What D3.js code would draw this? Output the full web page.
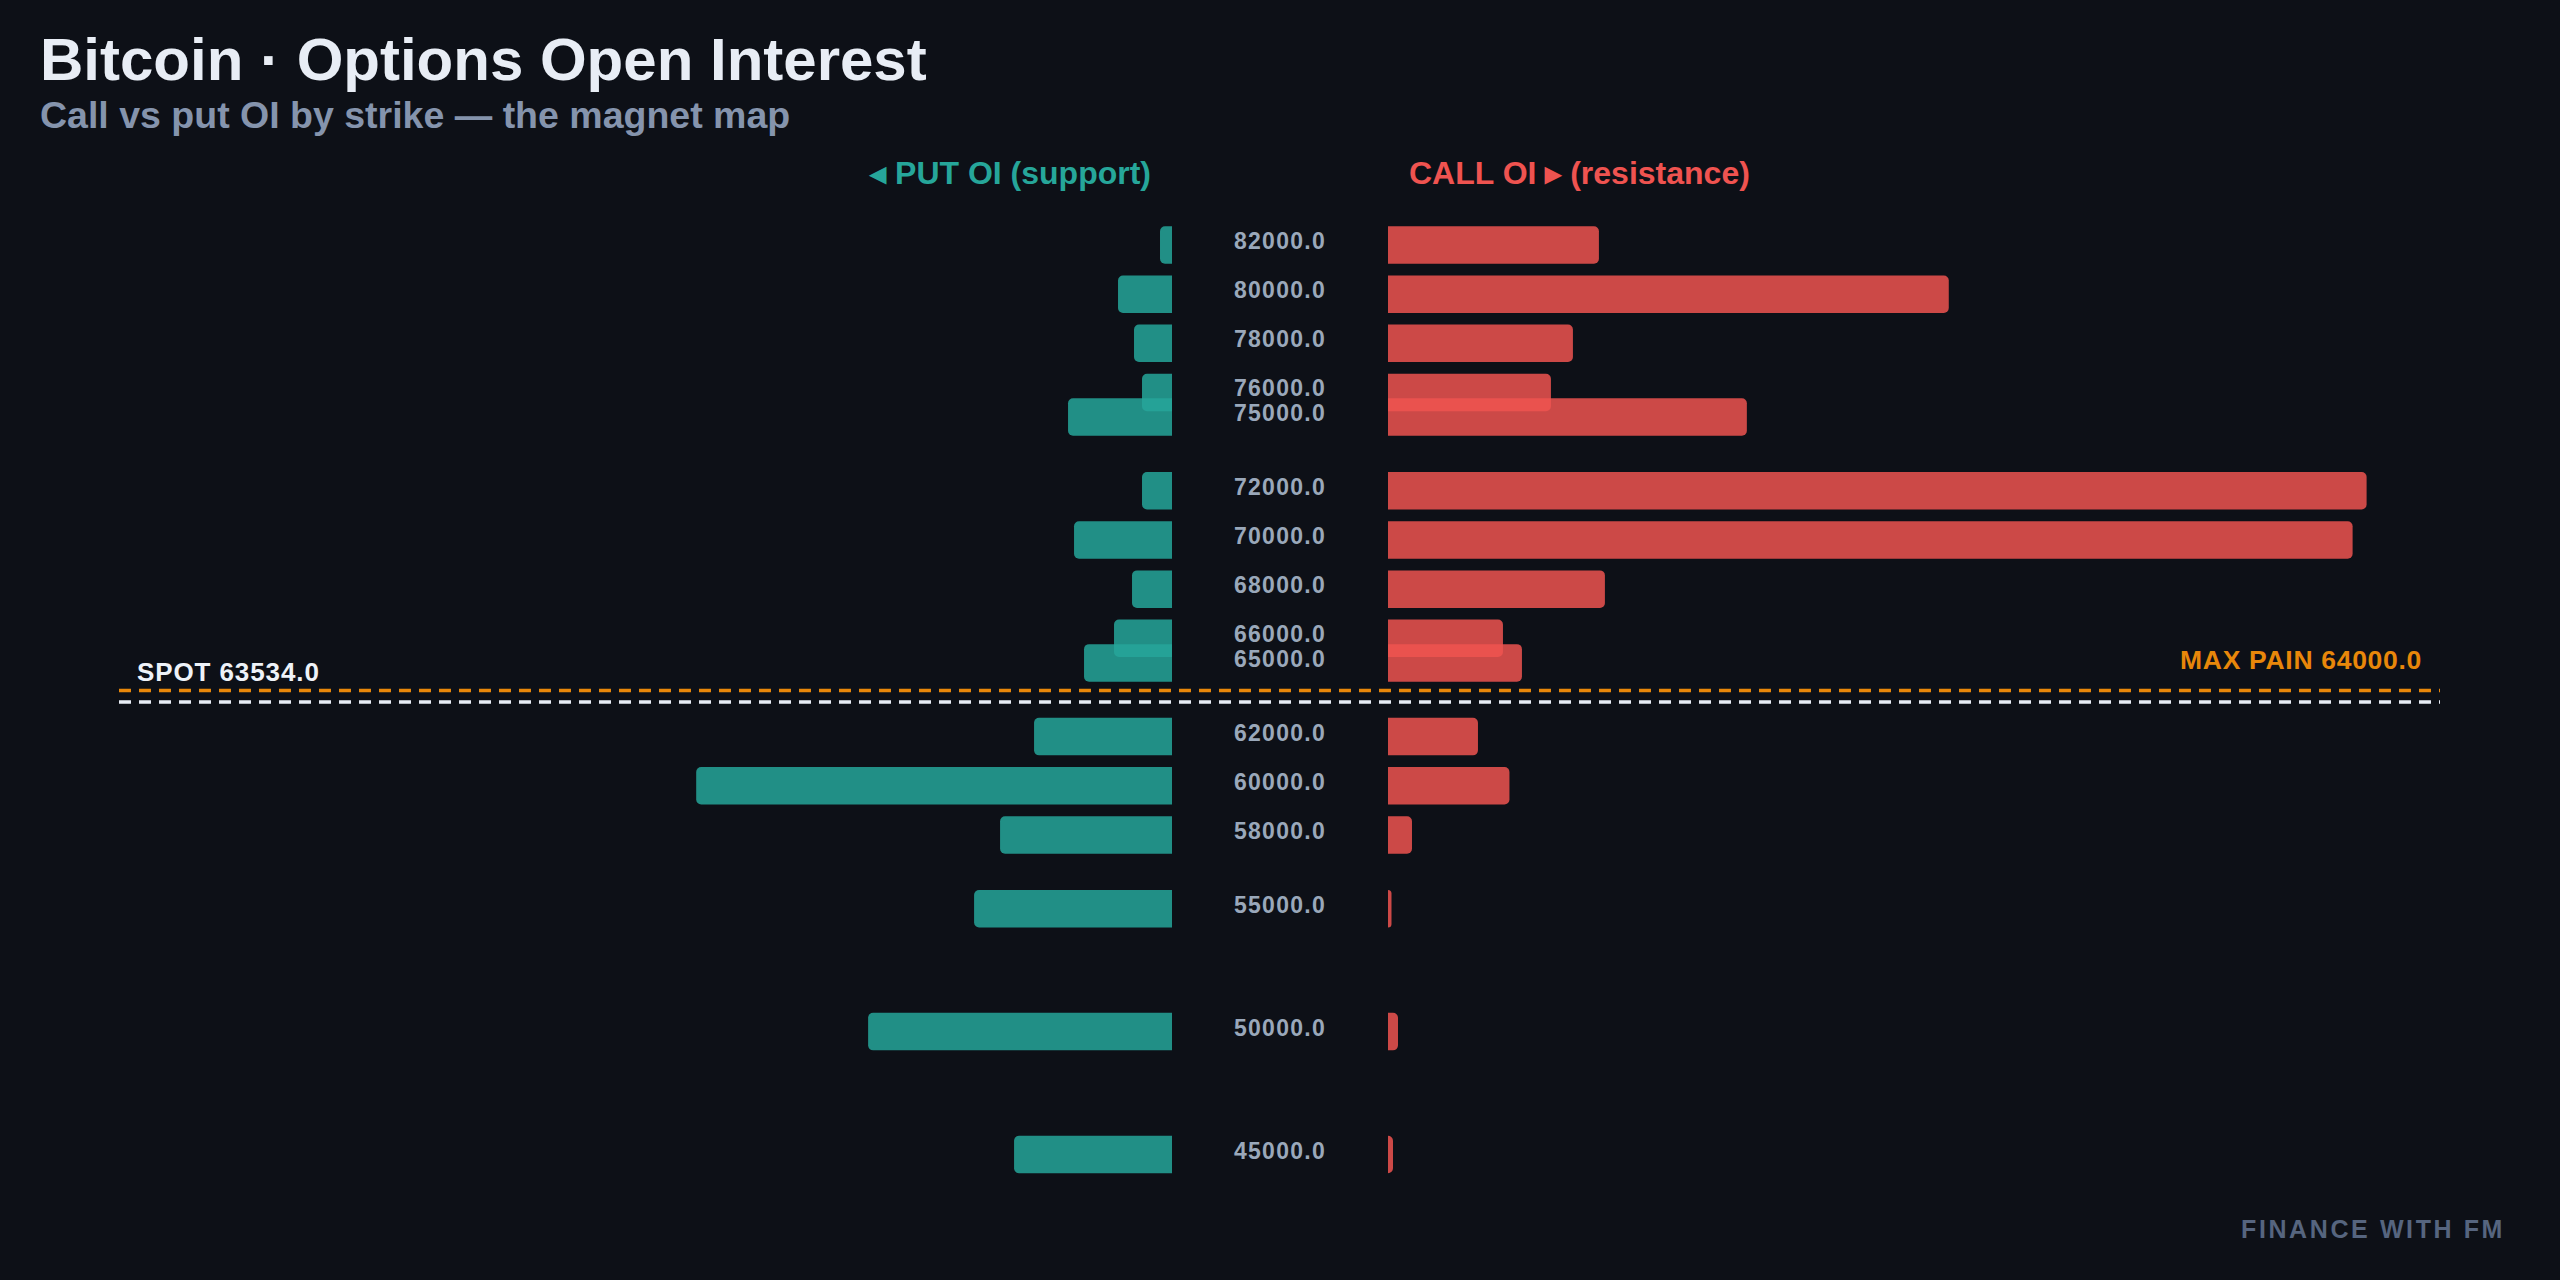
<!DOCTYPE html>
<html>
<head>
<meta charset="utf-8">
<script src="https://cdn.jsdelivr.net/npm/d3@7"></script>
<style>
  html, body { margin: 0; padding: 0; background: #0d1017; }
  svg { display: block; }
  text { font-family: "Liberation Sans", Arial, sans-serif; font-weight: bold; }
</style>
</head>
<body>
<div id="chart"></div>
<script>
// strikes and open interest (contracts)
const strikes = [82000, 80000, 78000, 76000, 75000, 72000, 70000, 68000, 66000, 65000, 62000, 60000, 58000, 55000, 50000, 45000];
const callOI  = [2110, 5610, 1850, 1630, 3590, 9790, 9650, 2170, 1150, 1340, 900, 1215, 240, 35, 100, 50];
const putOI   = [120, 540, 380, 300, 1040, 300, 980, 400, 580, 880, 1380, 4760, 1720, 1980, 3040, 1580];
const spotPrice = 63534.0;
const maxPain = 64000.0;

const W = 2560, H = 1280;
const center = 1280;        // strike label column
const gap = 108;            // half width of label column
const sideLen = 1052;       // room for bars on each side
const barH = 37.5;

const svg = d3.select("#chart").append("svg")
    .attr("width", W)
    .attr("height", H);

svg.append("rect").attr("width", W).attr("height", H).attr("fill", "#0d1017");

// Titles
svg.append("text")
    .attr("x", 40).attr("y", 80)
    .attr("font-size", 60)
    .attr("fill", "#e8edf5")
    .text("Bitcoin · Options Open Interest");

svg.append("text")
    .attr("x", 40).attr("y", 128)
    .attr("font-size", 37.5)
    .attr("fill", "#8594ad")
    .text("Call vs put OI by strike — the magnet map");

// Scales
const y = d3.scaleLinear()
    .domain([d3.max(strikes), d3.min(strikes)])
    .range([245, 1154.5]);

const maxOI = d3.max(callOI.concat(putOI)) * 1.075;
const xCall = d3.scaleLinear().domain([0, maxOI]).range([center + gap, center + gap + sideLen]);
const xPut  = d3.scaleLinear().domain([0, maxOI]).range([center - gap, center - gap - sideLen]);

// Column headers
svg.append("text")
    .attr("x", center - gap - 21).attr("y", 184)
    .attr("text-anchor", "end")
    .attr("font-size", 32)
    .attr("fill", "#26a69a")
    .text("◂ PUT OI (support)");

svg.append("text")
    .attr("x", center + gap + 21).attr("y", 184)
    .attr("font-size", 32)
    .attr("fill", "#ef5350")
    .text("CALL OI ▸ (resistance)");

// bar with rounded corners on the outer end only
function barPath(x0, x1, yc) {
    const dir = x1 >= x0 ? 1 : -1;
    const r = Math.min(5, Math.abs(x1 - x0));
    const top = yc - barH / 2, bot = yc + barH / 2;
    const p = d3.path();
    p.moveTo(x0, top);
    p.lineTo(x1 - dir * r, top);
    p.arcTo(x1, top, x1, top + r, r);
    p.lineTo(x1, bot - r);
    p.arcTo(x1, bot, x1 - dir * r, bot, r);
    p.lineTo(x0, bot);
    p.closePath();
    return p.toString();
}

const rows = strikes.map((s, i) => ({ strike: s, call: callOI[i], put: putOI[i] }));

svg.append("g").selectAll("path")
    .data(rows)
    .join("path")
    .attr("d", d => barPath(xPut(0), xPut(d.put), y(d.strike)))
    .attr("fill", "#26a69a")
    .attr("fill-opacity", 0.85);

svg.append("g").selectAll("path")
    .data(rows)
    .join("path")
    .attr("d", d => barPath(xCall(0), xCall(d.call), y(d.strike)))
    .attr("fill", "#ef5350")
    .attr("fill-opacity", 0.85);

// strike labels
svg.append("g").selectAll("text")
    .data(rows)
    .join("text")
    .attr("x", center)
    .attr("y", d => y(d.strike) + 4)
    .attr("text-anchor", "middle")
    .attr("font-size", 23)
    .attr("letter-spacing", 1.3)
    .attr("fill", "#9aa8ba")
    .text(d => d3.format(".1f")(d.strike));

// max pain and spot lines
const x0 = 119, x1 = 2440;
const lineShift = 3;

svg.append("line")
    .attr("x1", x0).attr("x2", x1)
    .attr("y1", y(maxPain) + lineShift).attr("y2", y(maxPain) + lineShift)
    .attr("stroke", "#e8870a")
    .attr("stroke-width", 3.5)
    .attr("stroke-dasharray", "12,8");

svg.append("line")
    .attr("x1", x0).attr("x2", x1)
    .attr("y1", y(spotPrice) + lineShift).attr("y2", y(spotPrice) + lineShift)
    .attr("stroke", "#e8edf5")
    .attr("stroke-width", 3.5)
    .attr("stroke-dasharray", "12,8");

svg.append("text")
    .attr("x", 137)
    .attr("y", y(spotPrice) + lineShift - 21)
    .attr("font-size", 26)
    .attr("letter-spacing", 0.9)
    .attr("fill", "#eef2f8")
    .text("SPOT " + d3.format(".1f")(spotPrice));

svg.append("text")
    .attr("x", 2422)
    .attr("y", y(maxPain) + lineShift - 21)
    .attr("text-anchor", "end")
    .attr("font-size", 26.5)
    .attr("letter-spacing", 0.7)
    .attr("fill", "#e8870a")
    .text("MAX PAIN " + d3.format(".1f")(maxPain));

// watermark
svg.append("text")
    .attr("x", 2505).attr("y", 1238)
    .attr("text-anchor", "end")
    .attr("font-size", 25)
    .attr("letter-spacing", 2.6)
    .attr("fill", "#56657f")
    .text("FINANCE WITH FM");
</script>
</body>
</html>
